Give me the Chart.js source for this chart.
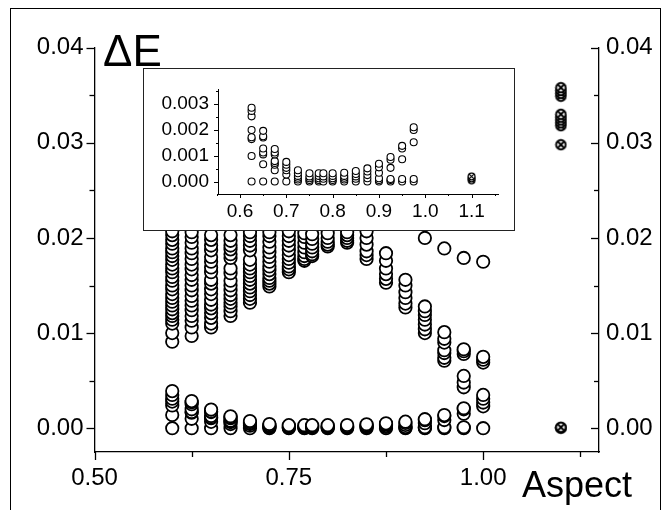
<!DOCTYPE html>
<html><head><meta charset="utf-8">
<script src="https://cdn.jsdelivr.net/npm/chart.js@4/dist/chart.umd.min.js"></script>
<style>
html,body{margin:0;padding:0;background:#fff;}
#wrap{position:relative;width:670px;height:510px;overflow:hidden;}
#frame{position:absolute;left:10px;top:8px;width:649px;height:530px;border:1px solid #000;}
#main{position:absolute;left:0;top:0;}
#insetBox{position:absolute;left:143px;top:68px;width:370px;height:161px;border:1px solid #222;background:#fff;}
#inset{position:absolute;left:0;top:0;}
</style></head><body>
<div id="wrap"><div id="frame"></div><canvas id="main" width="670" height="510"></canvas><div id="insetBox"><canvas id="inset" width="370" height="161"></canvas></div></div>
<script>
// ---------- DATA ----------
const aspects = [0.6, 0.625, 0.65, 0.675, 0.7, 0.725, 0.75, 0.77, 0.78, 0.8, 0.825, 0.85, 0.875, 0.9, 0.925, 0.95, 0.975, 1.0];
// lower branch (also shown in the inset for 0.625 .. 0.975)
const low060 = [0, 0.0014, 0.0024, 0.0028, 0.0031, 0.0035, 0.0039];
const low0625 = [0, 0.00099, 0.00164, 0.00171, 0.00199, 0.00252, 0.00273, 0.00285];
const low065 = [0, 0.00067, 0.00105, 0.00112, 0.00128, 0.0017, 0.00175, 0.00196];
const low0675 = [0, 0.00044, 0.00065, 0.00072, 0.00079, 0.00105, 0.00112, 0.00126];
const low070 = [0, 0.00027, 0.00044, 0.00053, 0.00065, 0.00076];
const low0725 = [0, 0.00008, 0.00015, 0.00022, 0.00032, 0.00044];
const low075 = [0, 0.00006, 0.00013, 0.0002, 0.00032];
const low077 = [0, 0.00006, 0.00013, 0.00022, 0.00032];
const low078 = [0, 0.00011, 0.0002, 0.00032];
const low080 = [0, 0.00006, 0.00013, 0.00022, 0.00032];
const low0825 = [0, 0.00008, 0.00015, 0.00022, 0.00034];
const low085 = [0, 0.00011, 0.0002, 0.00029, 0.00041];
const low0875 = [0, 0.00013, 0.00025, 0.00039, 0.00051];
const low090 = [0, 0.00006, 0.00013, 0.00034, 0.00055, 0.00069];
const low0925 = [0, 0.00006, 0.0001, 0.00053, 0.00084, 0.00095];
const low095 = [0, 0.0001, 0.00086, 0.00128, 0.00138];
const low0975 = [0, 0.0001, 0.00152, 0.00199, 0.0021];
const low100 = [0, 0.0023, 0.0027, 0.0031, 0.0035];
// upper branch (main plot only)
const high060 = [0.0091, 0.0100, 0.0110, 0.0114, 0.0118, 0.0121, 0.0125, 0.0129, 0.0133, 0.0137, 0.0141, 0.0146, 0.0150, 0.0155, 0.0159, 0.0164, 0.0168, 0.0172, 0.0177, 0.0181, 0.0185, 0.0189, 0.0194, 0.0198, 0.0203, 0.0207];
const high0625 = [0.0097, 0.0106, 0.0113, 0.0118, 0.0124, 0.0129, 0.0134, 0.0139, 0.0145, 0.015, 0.0156, 0.0161, 0.0167, 0.0172, 0.0178, 0.0184, 0.0189, 0.0195, 0.0201, 0.0206];
const high065 = [0.0106, 0.011, 0.0116, 0.0121, 0.0126, 0.013, 0.0135, 0.0141, 0.0146, 0.0152, 0.0156, 0.0164, 0.0169, 0.0175, 0.018, 0.0187, 0.0192, 0.0198, 0.0203];
const high0675 = [0.0118, 0.0123, 0.0128, 0.0132, 0.0136, 0.014, 0.0145, 0.015, 0.0155, 0.0163, 0.0168, 0.0179, 0.0183, 0.0188, 0.0192, 0.0197, 0.0203];
const high070 = [0.0132, 0.0136, 0.014, 0.0144, 0.0148, 0.0152, 0.0156, 0.016, 0.0164, 0.0168, 0.0172, 0.0177, 0.0187, 0.0192, 0.0197, 0.0202, 0.0206];
const high0725 = [0.0149, 0.0152, 0.0155, 0.0158, 0.0162, 0.0166, 0.017, 0.0175, 0.018, 0.0185, 0.019, 0.0196, 0.0202, 0.0206];
const high075 = [0.0164, 0.0167, 0.017, 0.0174, 0.0178, 0.0182, 0.0187, 0.0192, 0.0197, 0.0202, 0.0207];
const high077 = [0.0176, 0.0178, 0.0181, 0.0185, 0.019, 0.0195, 0.0201, 0.0205];
const high078 = [0.0181, 0.0183, 0.0186, 0.019, 0.0194, 0.0199, 0.0204];
const high080 = [0.0191, 0.0193, 0.0196, 0.02, 0.0205];
const high0825 = [0.0195, 0.0197, 0.02, 0.0203, 0.0206];
const high085 = [0.0178, 0.0182, 0.0186, 0.0193, 0.02, 0.0207];
const high0875 = [0.0153, 0.0157, 0.0162, 0.0168, 0.0176, 0.0184];
const high090 = [0.0127, 0.0131, 0.0137, 0.0143, 0.015, 0.0156];
const high0925 = [0.01, 0.0104, 0.0109, 0.0114, 0.0119, 0.0123, 0.0128, 0.0200];
const high095 = [0.0071, 0.0074, 0.0079, 0.0082, 0.009, 0.0094, 0.0101, 0.0189];
const high0975 = [0.0043, 0.0048, 0.0055, 0.0078, 0.0081, 0.0083, 0.0179];
const high100 = [0.0069, 0.0072, 0.0075, 0.0175];
const lowCols = [low060, low0625, low065, low0675, low070, low0725, low075, low077, low078, low080, low0825, low085, low0875, low090, low0925, low095, low0975, low100];
const highCols = [high060, high0625, high065, high0675, high070, high0725, high075, high077, high078, high080, high0825, high085, high0875, high090, high0925, high095, high0975, high100];
// crossed symbols at Aspect 1.1
const crossAspect = 1.1;
const crossMain = [0, 0.00005, 0.0001, 0.0298, 0.0318, 0.0321, 0.0324, 0.0327, 0.033, 0.0349, 0.0352, 0.0355, 0.0358];
const crossInset = [0.00005, 0.00012, 0.0002];
const insetAspects = [0.625, 0.65, 0.675, 0.7, 0.725, 0.75, 0.77, 0.78, 0.8, 0.825, 0.85, 0.875, 0.9, 0.925, 0.95, 0.975];
// ticks
const xMajor = [0.5, 0.75, 1.0];
const xMinor = [0.625, 0.875, 1.125];
const yMajor = [0, 0.01, 0.02, 0.03, 0.04];
const yMinor = [0.005, 0.015, 0.025, 0.035];
const insetXMajor = [0.6, 0.7, 0.8, 0.9, 1.0, 1.1];
const insetXMinor = [0.55, 0.65, 0.75, 0.85, 0.95, 1.05, 1.15];
const insetYMajor = [0, 0.001, 0.002, 0.003];
const insetYMinor = [0.0005, 0.0015, 0.0025, 0.0035];

// ---------- build points ----------
const mainPoints = [];
aspects.forEach((a, i) => { lowCols[i].forEach(v => mainPoints.push({x: a, y: v})); highCols[i].forEach(v => mainPoints.push({x: a, y: v})); });
const mainCross = crossMain.map(v => ({x: crossAspect, y: v}));
const insetPoints = [];
insetAspects.forEach(a => { const i = aspects.indexOf(a); lowCols[i].forEach(v => insetPoints.push({x: a, y: v})); });
const insetCross = crossInset.map(v => ({x: crossAspect, y: v}));

function crossImage(size, r, lw) {
  const c = document.createElement('canvas'); c.width = size; c.height = size;
  const g = c.getContext('2d'); const m = size / 2;
  g.fillStyle = '#fff'; g.strokeStyle = '#000'; g.lineWidth = lw;
  g.beginPath(); g.arc(m, m, r, 0, Math.PI * 2); g.fill(); g.stroke();
  const d = r * 0.72;
  g.beginPath(); g.moveTo(m - d, m - d); g.lineTo(m + d, m + d); g.moveTo(m + d, m - d); g.lineTo(m - d, m + d); g.stroke();
  return c;
}

const tickPlugin = {
  id: 'tickMarks',
  afterDraw(chart, args, opts) {
    const ctx = chart.ctx; ctx.save(); ctx.strokeStyle = '#000'; ctx.lineWidth = opts.lw || 1.2;
    (opts.specs || []).forEach(sp => {
      const s = chart.scales[sp.axis];
      sp.values.forEach(v => {
        const p = Math.round(s.getPixelForValue(v)) + 0.5;
        ctx.beginPath();
        if (sp.axis === 'x') { ctx.moveTo(p, s.top); ctx.lineTo(p, s.top + sp.len); }
        else if (sp.axis === 'y') { ctx.moveTo(s.right, p); ctx.lineTo(s.right - sp.len, p); }
        else { ctx.moveTo(s.left, p); ctx.lineTo(s.left - sp.len, p); }
        ctx.stroke();
      });
    });
    ctx.restore();
  }
};
const titlePlugin = {
  id: 'titles',
  afterDraw(chart, args, opts) {
    const ctx = chart.ctx; ctx.save(); ctx.fillStyle = '#000'; ctx.textBaseline = 'alphabetic';
    (opts.items || []).forEach(t => { ctx.font = t.font; ctx.fillText(t.text, t.x, t.y); });
    ctx.restore();
  }
};

const FONT = '"Liberation Sans", Arial, sans-serif';
function yScale(pos, width, pad, min, max, major, fontSize, fmt) {
  return {
    type: 'linear', position: pos, min: min, max: max,
    afterBuildTicks: s => { s.ticks = major.map(v => ({value: v})); },
    afterFit: s => { s.width = width; },
    ticks: {callback: v => v.toFixed(fmt), color: '#000', font: {family: FONT, size: fontSize}, padding: pad, autoSkip: false},
    grid: {display: false, drawTicks: false},
    border: {display: true, color: '#000', width: 1.3}
  };
}

new Chart(document.getElementById('main'), {
  type: 'scatter',
  data: {datasets: [
    {data: mainPoints, pointStyle: 'circle', pointRadius: 6.2, pointHoverRadius: 6.2, borderWidth: 1.8, borderColor: '#000', backgroundColor: '#fff'},
    {data: mainCross, pointStyle: crossImage(13, 4.8, 1.9)}
  ]},
  options: {
    responsive: false, animation: false, events: [], devicePixelRatio: 1,
    layout: {padding: {top: 47.7, left: 0, right: 0, bottom: 0}},
    plugins: {legend: {display: false}, tooltip: {enabled: false},
      tickMarks: {lw: 1.3, specs: [
        {axis: 'x', values: xMajor, len: 8}, {axis: 'x', values: xMinor, len: 5},
        {axis: 'y', values: yMajor, len: 8}, {axis: 'y', values: yMinor, len: 5},
        {axis: 'y2', values: yMajor, len: 8}, {axis: 'y2', values: yMinor, len: 5}]},
      titles: {items: [
        {text: '\u0394E', font: '44px ' + FONT, x: 103, y: 66},
        {text: 'Aspect', font: '36px ' + FONT, x: 522, y: 497}]}
    },
    scales: {
      x: {type: 'linear', min: 0.5, max: 1.149,
        afterBuildTicks: s => { s.ticks = xMajor.map(v => ({value: v})); },
        afterFit: s => { s.height = 58; },
        ticks: {callback: v => v.toFixed(2), color: '#000', font: {family: FONT, size: 24}, padding: 12, maxRotation: 0, autoSkip: false},
        grid: {display: false, drawTicks: false},
        border: {display: true, color: '#000', width: 1.3}},
      y: yScale('left', 94.5, 11, -0.0025, 0.04, yMajor, 24, 2),
      y2: yScale('right', 71, 7, -0.0025, 0.04, yMajor, 24, 2)
    }
  },
  plugins: [tickPlugin, titlePlugin]
});

new Chart(document.getElementById('inset'), {
  type: 'scatter',
  data: {datasets: [
    {data: insetPoints, pointStyle: 'circle', pointRadius: 3.5, pointHoverRadius: 3.5, borderWidth: 1.1, borderColor: '#000', backgroundColor: '#fff'},
    {data: insetCross, pointStyle: crossImage(9, 3.4, 1.2)}
  ]},
  options: {
    responsive: false, animation: false, events: [], devicePixelRatio: 1,
    layout: {padding: {top: 10, left: 0, right: 16, bottom: 0}},
    plugins: {legend: {display: false}, tooltip: {enabled: false},
      tickMarks: {lw: 1, specs: [
        {axis: 'x', values: insetXMajor, len: 4}, {axis: 'x', values: insetXMinor, len: 2},
        {axis: 'y', values: insetYMajor, len: 4}, {axis: 'y', values: insetYMinor, len: 2}]}
    },
    scales: {
      x: {type: 'linear', min: 0.5525, max: 1.157,
        afterBuildTicks: s => { s.ticks = insetXMajor.map(v => ({value: v})); },
        afterFit: s => { s.height = 36; },
        ticks: {callback: v => v.toFixed(1), color: '#000', font: {family: FONT, size: 19}, padding: 6, maxRotation: 0, autoSkip: false},
        grid: {display: false, drawTicks: false},
        border: {display: true, color: '#000', width: 1}},
      y: Object.assign(yScale('left', 74, 9, -0.00048, 0.00356, insetYMajor, 19, 3), {border: {display: true, color: '#000', width: 1}})
    }
  },
  plugins: [tickPlugin]
});
</script>
</body></html>
